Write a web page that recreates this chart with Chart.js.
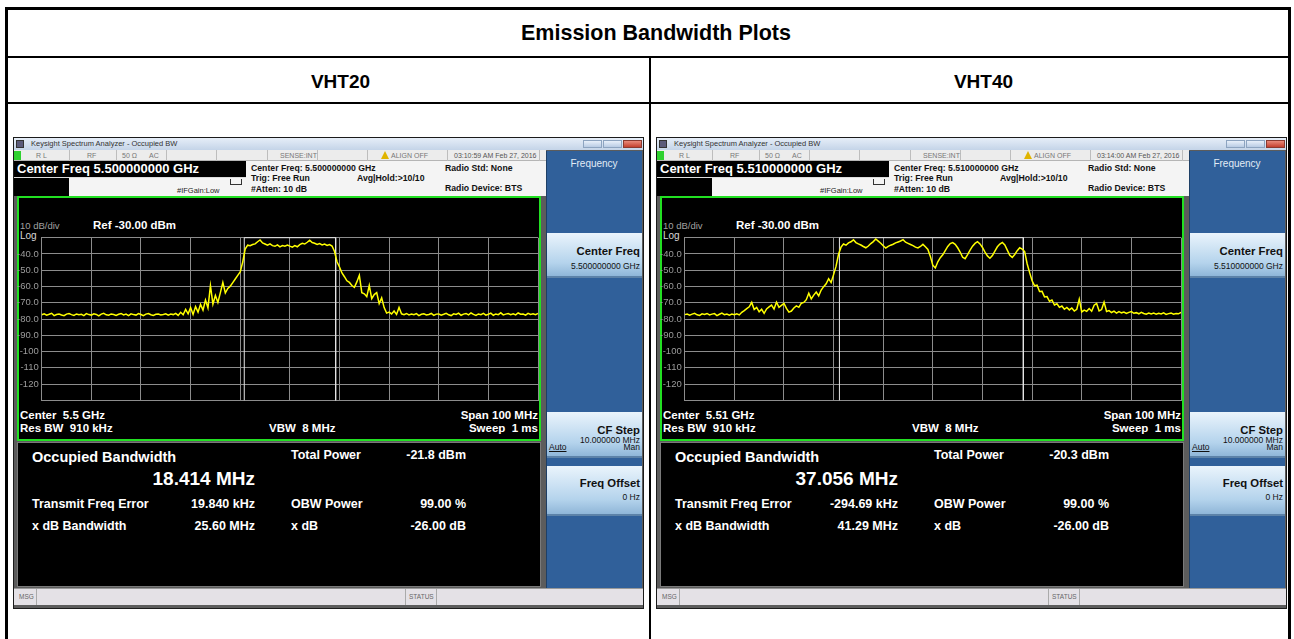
<!DOCTYPE html>
<html>
<head>
<meta charset="utf-8">
<script src="https://cdn.jsdelivr.net/npm/chart.js@4.4.0/dist/chart.umd.min.js"></script>
<style>
  body { margin: 0; background: #fff; }
  #page { position: relative; width: 1294px; height: 639px; overflow: hidden; background: #fff;
          font-family: "Liberation Sans", Arial, sans-serif; }
  .ln { position: absolute; background: #000; }
  .hd { position: absolute; font-weight: bold; color: #000; text-align: center;
        height: 30px; line-height: 30px; }
  .panel { position: absolute; top: 138px; width: 629px; height: 470px; background: #5c5c5c;
           box-shadow: 0 0 0 1px #1b1b1b; overflow: hidden; }
  .t { position: absolute; white-space: nowrap; height: 16px; line-height: 16px; }
  .b { position: absolute; }
  canvas { position: absolute; }
</style>
</head>
<body>
<div id="page"></div>
<script>
// sweep: 201 points, -50 .. +50 MHz around centre
const freqStartMHz = -50;
const freqStepMHz = 0.5;

// VHT20 trace, dBm
const vht20Trace = [
  -77.4,-76.8,-77.6,-77.1,-76.5,-77.9,-77.2,-76.9,-77.5,-78.0,
  -77.0,-76.6,-77.3,-77.8,-76.9,-77.4,-77.1,-77.9,-76.7,-77.3,
  -77.6,-76.8,-77.2,-78.1,-77.0,-76.5,-77.4,-77.7,-76.9,-77.2,
  -77.8,-77.1,-76.6,-77.5,-77.0,-77.9,-76.8,-77.3,-77.6,-76.7,
  -77.2,-77.9,-77.0,-76.6,-77.4,-77.8,-77.1,-76.9,-77.5,-77.2,
  -76.8,-77.6,-77.0,-77.3,-76.5,-77.8,-75.9,-77.4,-74.1,-76.8,
  -73.0,-77.2,-72.4,-75.8,-71.0,-74.5,-68.3,-73.2,-59.5,-70.8,
  -65.5,-69.8,-63.8,-57.5,-64.0,-61.2,-59.8,-57.6,-55.4,-53.2,
  -51.0,-45.0,-37.0,-34.6,-34.9,-34.2,-33.8,-32.5,-31.4,-33.2,
  -33.9,-34.6,-33.8,-34.9,-35.3,-34.4,-35.6,-34.8,-35.2,-34.5,
  -35.2,-35.8,-34.9,-35.6,-34.3,-33.5,-33.9,-32.8,-31.6,-33.0,
  -33.4,-34.1,-33.6,-34.4,-33.9,-34.8,-34.2,-35.1,-38.5,-44.8,
  -48.0,-51.7,-54.0,-56.5,-57.5,-59.4,-60.5,-57.2,-53.1,-63.8,
  -64.5,-66.2,-59.4,-67.5,-65.0,-63.8,-70.5,-67.0,-73.0,-76.4,
  -75.8,-76.9,-75.1,-77.2,-72.9,-76.8,-77.3,-76.6,-77.5,-76.9,
  -77.4,-76.7,-77.9,-77.1,-76.8,-77.5,-77.2,-76.6,-77.8,-77.0,
  -76.9,-77.6,-77.1,-76.5,-77.4,-77.9,-76.8,-77.2,-76.4,-77.7,
  -77.0,-76.6,-77.5,-76.3,-77.2,-77.8,-76.9,-77.3,-76.5,-77.6,
  -77.1,-76.4,-77.7,-76.9,-77.3,-76.2,-77.5,-77.0,-76.7,-77.4,
  -76.8,-77.5,-76.3,-77.1,-76.9,-77.6,-76.5,-77.2,-76.8,-77.4,
  -76.6
];

// VHT40 trace, dBm
const vht40Trace = [
  -77.3,-76.9,-77.6,-77.0,-76.5,-77.4,-77.8,-76.8,-77.2,-76.6,
  -77.5,-77.0,-76.7,-77.9,-77.1,-76.4,-77.3,-76.9,-77.6,-77.0,
  -77.4,-76.8,-77.5,-75.9,-74.8,-73.6,-72.5,-69.8,-74.2,-72.9,
  -75.6,-74.0,-76.5,-73.8,-72.6,-71.5,-73.9,-69.6,-72.8,-71.6,
  -70.4,-73.5,-75.8,-75.1,-73.2,-71.9,-72.8,-70.3,-69.8,-68.1,
  -64.2,-67.6,-65.3,-63.4,-65.8,-62.2,-60.1,-58.3,-55.2,-57.6,
  -52.7,-47.5,-40.2,-35.8,-33.9,-34.6,-33.2,-32.5,-31.3,-33.0,
  -33.8,-34.5,-35.4,-36.2,-35.1,-33.6,-32.4,-30.8,-32.1,-33.4,
  -35.0,-36.4,-35.3,-34.6,-34.0,-33.2,-32.6,-32.0,-31.2,-32.8,
  -33.5,-34.2,-34.9,-35.8,-36.3,-35.4,-34.1,-35.6,-37.2,-41.5,
  -47.0,-48.6,-44.8,-42.3,-40.5,-37.9,-35.4,-33.6,-33.0,-34.1,
  -36.2,-38.8,-42.0,-42.9,-40.4,-37.6,-35.2,-33.5,-32.4,-33.8,
  -36.0,-38.9,-41.2,-42.6,-41.0,-38.2,-35.6,-33.9,-32.9,-34.5,
  -37.6,-40.8,-42.1,-40.3,-38.0,-36.2,-37.0,-38.5,-46.0,-51.5,
  -56.5,-59.6,-59.2,-63.1,-63.0,-66.4,-66.2,-69.1,-68.3,-71.4,
  -70.6,-72.8,-72.0,-74.0,-72.9,-74.4,-73.2,-75.1,-74.0,-67.8,
  -75.6,-74.5,-75.3,-73.6,-75.2,-71.5,-70.4,-75.0,-74.2,-69.6,
  -75.4,-74.8,-76.0,-75.2,-76.4,-75.5,-76.2,-75.7,-76.6,-75.9,
  -75.4,-76.5,-76.1,-76.8,-75.9,-76.6,-77.1,-76.3,-76.9,-76.4,
  -77.0,-76.5,-76.9,-76.2,-77.2,-76.7,-76.4,-77.0,-76.6,-76.8,
  -75.9
];

const panelNames = ["VHT20", "VHT40"];
const centerFreqGHz = ["5.500000000", "5.510000000"];
const centerShort = ["5.5", "5.51"];
const timeStamps = ["03:10:59 AM Feb 27, 2016", "03:14:00 AM Feb 27, 2016"];
const obwMHz = ["18.414", "37.056"];
const totalPower = ["-21.8 dBm", "-20.3 dBm"];
const freqErrorKHz = ["19.840", "-294.69"];
const xdbBandwidth = ["25.60 MHz", "41.29 MHz"];
const refLevel = -30, bottomLevel = -130;

const page = document.getElementById("page");

function addLine(l, t, w, h) {
  const d = document.createElement("div");
  d.className = "ln";
  d.style.cssText = `left:${l}px;top:${t}px;width:${w}px;height:${h}px;`;
  page.appendChild(d);
}
function addHead(text, l, w, cy, size) {
  const d = document.createElement("div");
  d.className = "hd";
  d.style.cssText = `left:${l}px;width:${w}px;top:${cy - 15}px;font-size:${size}px;`;
  d.textContent = text;
  page.appendChild(d);
}

// table
addLine(5, 7, 1286, 3);
addLine(5, 7, 3, 632);
addLine(1288, 7, 3, 632);
addLine(5, 56, 1286, 2);
addLine(5, 102, 1286, 2);
addLine(649, 57, 2, 582);
addHead("Emission Bandwidth Plots", 16, 1280, 33, 21.5);
addHead(panelNames[0], 20, 641, 82, 19);
addHead(panelNames[1], 665, 637, 82, 19);

// helpers for panel content (coords relative to panel)
function T(l, cy, s, css) { return `<div class="t" style="left:${l}px;top:${cy - 8}px;${css || ""}">${s}</div>`; }
function R(r, cy, s, css) { return `<div class="t" style="right:${629 - r}px;top:${cy - 8}px;${css || ""}">${s}</div>`; }
function B(l, t, w, h, css) { return `<div class="b" style="left:${l}px;top:${t}px;width:${w}px;height:${h}px;box-sizing:border-box;${css || ""}"></div>`; }

const small = "font-size:7px;color:#777;";
const hdr = "font-size:8.7px;font-weight:bold;color:#111;";
const gw = "font-size:11.5px;font-weight:bold;color:#fff;";
const meas = "font-size:12.5px;font-weight:bold;color:#fff;";
const skT = "font-size:11.3px;font-weight:bold;color:#111;";
const skV = "font-size:8.5px;color:#111;";

function buildPanel(i, x0, trace) {
  const p = document.createElement("div");
  p.className = "panel";
  p.style.left = x0 + "px";
  let h = "";
  // title bar
  h += B(0, 0, 629, 12, "background:linear-gradient(#e6eef8,#c4d4e8);");
  h += B(2, 2, 8, 8, "background:#5b5b7a;border:1px solid #333;");
  h += T(17, 6, "Keysight Spectrum Analyzer - Occupied BW", "font-size:7.5px;color:#333;");
  h += B(569, 2, 19, 8, "background:linear-gradient(#e8f0fa,#b9cce4);border:1px solid #8da4c0;");
  h += B(589, 2, 19, 8, "background:linear-gradient(#e8f0fa,#b9cce4);border:1px solid #8da4c0;");
  h += B(609, 2, 19, 8, "background:linear-gradient(#e98a7a,#c4412f);border:1px solid #8a3a30;");
  // status row
  h += B(0, 12, 532, 11, "background:#ececec;border-bottom:1px solid #b5b5b5;");
  [55, 102, 152, 202, 253, 303, 353, 433, 525].forEach(x => { h += B(x, 12, 1, 11, "background:#bdbdbd;"); });
  h += B(0, 13, 7, 9, "background:#2fd12f;");
  h += T(22, 18, "R L", small);
  h += T(73, 18, "RF", small);
  h += T(108, 18, "50 Ω", small);
  h += T(135, 18, "AC", small);
  h += T(266, 18, "SENSE:INT", small);
  h += `<div class="b" style="left:367px;top:13px;width:0;height:0;border-left:4px solid transparent;border-right:4px solid transparent;border-bottom:8px solid #e0b400;"></div>`;
  h += T(377, 18, "ALIGN OFF", small);
  h += T(440, 18, timeStamps[i], "font-size:7px;color:#555;");
  // header block
  h += B(0, 23, 232, 16, "background:#000;");
  h += T(3, 31, "Center Freq " + centerFreqGHz[i] + " GHz", "font-size:13px;font-weight:bold;color:#fff;");
  h += B(232, 23, 300, 35, "background:#f4f4f4;");
  h += B(0, 39, 55, 19, "background:#000;border-top:1px solid #ddd;");
  h += B(55, 39, 177, 19, "background:#f4f4f4;border-top:1px solid #ddd;");
  h += B(216, 41, 12, 6, "border:1px solid #333;border-top:none;");
  h += T(163, 53, "#IFGain:Low", "font-size:7.5px;color:#222;");
  h += T(237, 30, "Center Freq: " + centerFreqGHz[i] + " GHz", hdr);
  h += T(237, 40, "Trig: Free Run", hdr);
  h += T(237, 51, "#Atten: 10 dB", hdr);
  h += T(343, 40, "Avg|Hold:&gt;10/10", hdr);
  h += T(431, 30, "Radio Std: None", hdr);
  h += T(431, 50, "Radio Device: BTS", hdr);
  // trace window
  h += B(3, 58, 524, 245, "background:#000;border:2px solid #22e022;");
  h += T(6, 88, "10 dB/div", "font-size:9.5px;color:#a0a0a0;");
  h += T(79, 87, "Ref -30.00 dBm", gw);
  h += T(6, 98, "Log", "font-size:10px;color:#d8d8d8;");
  h += T(6, 277, "Center&nbsp; " + centerShort[i] + " GHz", gw);
  h += T(6, 290, "Res BW&nbsp; 910 kHz", gw);
  h += T(255, 290, "VBW&nbsp; 8 MHz", gw);
  h += R(524, 277, "Span 100 MHz", gw);
  h += R(524, 290, "Sweep&nbsp; 1 ms", gw);
  // measurement window
  h += B(3, 304, 524, 145, "background:#000;border:1px solid #7a7a7a;");
  h += T(18, 319, "Occupied Bandwidth", "font-size:14.5px;font-weight:bold;color:#fff;");
  h += R(241, 341, obwMHz[i] + " MHz", "font-size:19px;font-weight:bold;color:#fff;height:22px;line-height:22px;top:330px;");
  h += T(277, 317, "Total Power", meas);
  h += R(452, 317, totalPower[i], meas);
  h += T(18, 366, "Transmit Freq Error", meas);
  h += R(241, 366, freqErrorKHz[i] + " kHz", meas);
  h += T(277, 366, "OBW Power", meas);
  h += R(452, 366, "99.00 %", meas);
  h += T(18, 388, "x dB Bandwidth", meas);
  h += R(241, 388, xdbBandwidth[i], meas);
  h += T(277, 388, "x dB", meas);
  h += R(452, 388, "-26.00 dB", meas);
  // status bar
  h += B(0, 450, 629, 17, "background:#e4e1e6;border-top:1px solid #999;");
  h += B(22, 451, 1, 16, "background:#aaa;");
  h += B(391, 451, 1, 16, "background:#aaa;");
  h += B(422, 451, 1, 16, "background:#aaa;");
  h += T(5, 459, "MSG", "font-size:6.5px;color:#666;");
  h += T(395, 459, "STATUS", "font-size:6.5px;color:#666;");
  // softkeys
  h += B(532, 13, 96, 437, "background:#30609a;border-left:1px solid #1e3f66;");
  h += `<div class="t" style="left:532px;width:96px;text-align:center;top:18px;font-size:10px;color:#e2ecf6;">Frequency</div>`;
  const key = "background:linear-gradient(#eaf4fc,#b4d3ec 70%,#8fb6d8);border-bottom:2px solid #5c82a8;";
  h += B(533, 95, 95, 45, key);
  h += R(626, 113, "Center Freq", skT);
  h += R(626, 128, centerFreqGHz[i] + " GHz", skV);
  h += B(533, 274, 95, 46, key);
  h += R(626, 292, "CF Step", skT);
  h += R(626, 302, "10.000000 MHz", skV);
  h += T(535, 309, "Auto", skV + "text-decoration:underline;");
  h += R(626, 309, "Man", skV);
  h += B(533, 328, 95, 50, key);
  h += R(626, 345, "Freq Offset", skT);
  h += R(626, 359, "0 Hz", skV);
  p.innerHTML = h;

  const cv = document.createElement("canvas");
  cv.width = 523; cv.height = 180;
  cv.style.left = "3px"; cv.style.top = "91px";
  p.appendChild(cv);
  page.appendChild(p);

  const obw = parseFloat(obwMHz[i]);
  const err = parseFloat(freqErrorKHz[i]) / 1000;
  const lo = err - obw / 2, hi = err + obw / 2;

  new Chart(cv, {
    type: "line",
    data: {
      datasets: [
        {
          data: trace.map((v, k) => ({ x: freqStartMHz + k * freqStepMHz, y: v })),
          borderColor: "#ffff00", borderWidth: 1.5, pointRadius: 0, tension: 0
        },
        {
          data: [{ x: lo, y: bottomLevel }, { x: lo, y: refLevel }, { x: hi, y: refLevel }, { x: hi, y: bottomLevel }],
          borderColor: "#e6e6e6", borderWidth: 1, pointRadius: 0, tension: 0, clip: 3
        }
      ]
    },
    options: {
      responsive: false, animation: false, devicePixelRatio: 1,
      layout: { autoPadding: false, padding: { top: 3.3, right: 2, bottom: 3.3, left: 0 } },
      plugins: { legend: { display: false }, tooltip: { enabled: false } },
      scales: {
        x: {
          type: "linear", min: -50, max: 50,
          ticks: { display: false, stepSize: 10 },
          grid: { color: "#8c8c8c", drawTicks: false },
          border: { color: "#8c8c8c" }
        },
        y: {
          min: bottomLevel, max: refLevel,
          ticks: {
            stepSize: 10, padding: 3, color: "#9c9c9c",
            font: { size: 9.5, family: "Liberation Sans" },
            callback: v => (v === refLevel || v === bottomLevel) ? "" : (v > -100 ? v.toFixed(1) : String(v))
          },
          grid: { color: "#8c8c8c", drawTicks: false },
          border: { color: "#8c8c8c" },
          afterFit: s => { s.width = 24.7; }
        }
      }
    }
  });
}

buildPanel(0, 14, vht20Trace);
buildPanel(1, 657, vht40Trace);
</script>
</body>
</html>
